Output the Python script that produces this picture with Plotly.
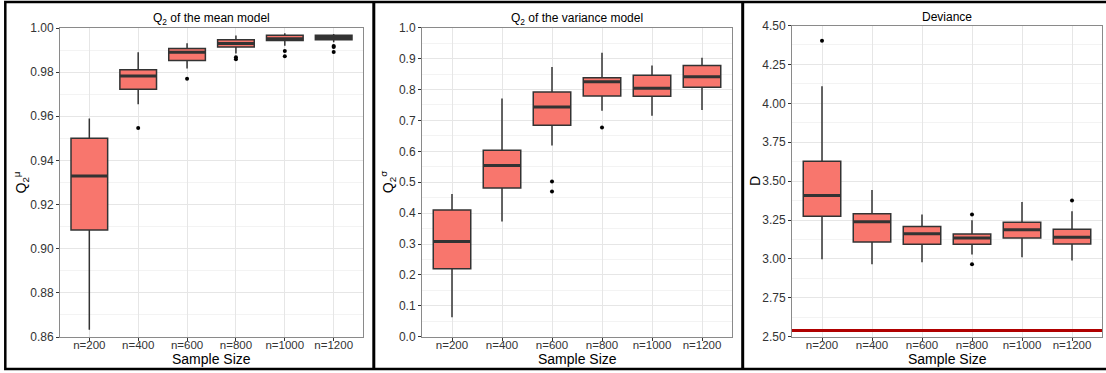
import plotly.graph_objects as go

# ---------------- data ----------------
categories = ["n=200", "n=400", "n=600", "n=800", "n=1000", "n=1200"]

# Q2 of the mean model
mean_lower = [0.8633, 0.9654, 0.9817, 0.9885, 0.9920, 0.9935]
mean_q1 = [0.9085, 0.9722, 0.9853, 0.9914, 0.9943, 0.9947]
mean_med = [0.9330, 0.9782, 0.9890, 0.9930, 0.9951, 0.9957]
mean_q3 = [0.9500, 0.9811, 0.9907, 0.9947, 0.9967, 0.9967]
mean_upper = [0.9590, 0.9890, 0.9931, 0.9966, 0.9976, 0.9973]
mean_out_x = ["n=400", "n=600", "n=800", "n=800", "n=1000", "n=1000", "n=1200", "n=1200", "n=1200"]
mean_out_y = [0.9547, 0.9770, 0.9867, 0.9858, 0.9896, 0.9872, 0.9918, 0.9914, 0.9891]

# Q2 of the variance model
var_lower = [0.063, 0.373, 0.619, 0.731, 0.715, 0.734]
var_q1 = [0.220, 0.481, 0.684, 0.779, 0.778, 0.807]
var_med = [0.308, 0.554, 0.743, 0.825, 0.804, 0.841]
var_q3 = [0.410, 0.603, 0.792, 0.838, 0.846, 0.878]
var_upper = [0.462, 0.771, 0.873, 0.919, 0.878, 0.903]
var_out_x = ["n=600", "n=600", "n=800"]
var_out_y = [0.502, 0.470, 0.677]

# Deviance
dev_lower = [2.998, 2.966, 2.979, 3.028, 3.011, 2.989]
dev_q1 = [3.274, 3.109, 3.094, 3.094, 3.135, 3.096]
dev_med = [3.408, 3.239, 3.162, 3.135, 3.188, 3.139]
dev_q3 = [3.627, 3.290, 3.209, 3.160, 3.235, 3.190]
dev_upper = [4.109, 3.442, 3.286, 3.248, 3.365, 3.306]
dev_out_x = ["n=200", "n=800", "n=800", "n=1200"]
dev_out_y = [4.402, 3.286, 2.966, 3.376]
dev_ref = 2.54

mean_ticks = [0.86, 0.88, 0.90, 0.92, 0.94, 0.96, 0.98, 1.00]
var_ticks = [0.0, 0.1, 0.2, 0.3, 0.4, 0.5, 0.6, 0.7, 0.8, 0.9, 1.0]
dev_ticks = [2.50, 2.75, 3.00, 3.25, 3.50, 3.75, 4.00, 4.25, 4.50]

# ---------------- style ----------------
W, H = 1106, 373
FONT = "Liberation Sans, Arial, Helvetica, sans-serif"
FILL = "#F8766D"
EDGE = "#333333"


def px(x):
    return x / W


def py(y):
    return 1 - y / H


panels = [
    dict(lo=mean_lower, q1=mean_q1, med=mean_med, q3=mean_q3, hi=mean_upper,
         ox=mean_out_x, oy=mean_out_y, ticks=mean_ticks, fmt=".2f",
         box=(60, 363, 28, 337), title="Q<sub>2</sub> of the mean model",
         ytitle="Q<sub>2</sub><sup>μ</sup>", ytx=21),
    dict(lo=var_lower, q1=var_q1, med=var_med, q3=var_q3, hi=var_upper,
         ox=var_out_x, oy=var_out_y, ticks=var_ticks, fmt=".1f",
         box=(422, 732, 27.7, 336.7), title="Q<sub>2</sub> of the variance model",
         ytitle="Q<sub>2</sub><sup>σ</sup>", ytx=388),
    dict(lo=dev_lower, q1=dev_q1, med=dev_med, q3=dev_q3, hi=dev_upper,
         ox=dev_out_x, oy=dev_out_y, ticks=dev_ticks, fmt=".2f",
         box=(792, 1102, 25.5, 336.7), title="Deviance",
         ytitle="D", ytx=755),
]

fig = go.Figure()
annotations = []
shapes = []

for i, p in enumerate(panels, start=1):
    xa = "x" if i == 1 else f"x{i}"
    ya = "y" if i == 1 else f"y{i}"
    fig.add_trace(go.Box(
        x=categories, q1=p["q1"], median=p["med"], q3=p["q3"],
        lowerfence=p["lo"], upperfence=p["hi"],
        width=0.75, whiskerwidth=0, fillcolor=FILL,
        line=dict(color=EDGE, width=1.5), boxpoints=False,
        xaxis=xa, yaxis=ya, showlegend=False, hoverinfo="skip"))
    # thick median line (ggplot style)
    fig.add_trace(go.Box(
        x=categories, q1=p["med"], median=p["med"], q3=p["med"],
        lowerfence=p["med"], upperfence=p["med"],
        width=0.75, whiskerwidth=0, fillcolor="rgba(0,0,0,0)",
        line=dict(color=EDGE, width=3), boxpoints=False,
        xaxis=xa, yaxis=ya, showlegend=False, hoverinfo="skip"))
    fig.add_trace(go.Scatter(
        x=p["ox"], y=p["oy"], mode="markers",
        marker=dict(color="black", size=4),
        xaxis=xa, yaxis=ya, showlegend=False, hoverinfo="skip"))

    x0, x1, y0, y1 = p["box"]
    ticks = p["ticks"]
    step = ticks[1] - ticks[0]
    minor_vals = [t + step / 2 for t in ticks[:-1]]
    fig.update_layout(**{
        ("xaxis" if i == 1 else f"xaxis{i}"): dict(
            domain=[px(x0), px(x1)], anchor=ya, type="category",
            categoryorder="array", categoryarray=categories,
            range=[-0.6, len(categories) - 0.4], automargin=False,
            showgrid=True, gridcolor="#E6E6E6", gridwidth=1,
            showline=True, linecolor="#8A8A8A", linewidth=1, mirror=True,
            ticks="outside", ticklen=3, tickcolor=EDGE, tickwidth=1,
            ticklabelstandoff=-6,
            tickfont=dict(family=FONT, size=11.5, color="#333333"),
            zeroline=False, fixedrange=True),
        ("yaxis" if i == 1 else f"yaxis{i}"): dict(
            domain=[py(y1), py(y0)], anchor=xa, automargin=False,
            range=[ticks[0], ticks[-1]], tickvals=ticks, tickformat=p["fmt"],
            showgrid=True, gridcolor="#E6E6E6", gridwidth=1,
            minor=dict(tickvals=minor_vals, showgrid=True,
                       gridcolor="#F3F3F3", gridwidth=1, ticks=""),
            showline=True, linecolor="#8A8A8A", linewidth=1, mirror=True,
            ticks="outside", ticklen=3, tickcolor=EDGE, tickwidth=1,
            tickfont=dict(family=FONT, size=12, color="#333333"),
            zeroline=False, fixedrange=True),
    })

    cx = (x0 + x1) / 2
    annotations.append(dict(text=p["title"], x=px(cx), y=py(y0 - 9),
                            xref="paper", yref="paper", showarrow=False,
                            xanchor="center", yanchor="middle",
                            font=dict(family=FONT, size=12, color="black")))
    annotations.append(dict(text="Sample Size", x=px(cx), y=py(359),
                            xref="paper", yref="paper", showarrow=False,
                            xanchor="center", yanchor="middle",
                            font=dict(family=FONT, size=14, color="black")))
    annotations.append(dict(text=p["ytitle"], x=px(p["ytx"]), y=py((y0 + y1) / 2),
                            xref="paper", yref="paper", showarrow=False,
                            xanchor="center", yanchor="middle", textangle=-90,
                            font=dict(family=FONT, size=14, color="black")))

# reference line in the deviance panel
shapes.append(dict(type="line", xref="x3 domain", yref="y3", x0=0, x1=1,
                   y0=dev_ref, y1=dev_ref, line=dict(color="#B00000", width=3),
                   layer="above"))

# black frames around the panels
shapes.append(dict(type="rect", xref="paper", yref="paper",
                   x0=px(5.3), x1=px(1110), y0=py(369), y1=py(2),
                   line=dict(color="black", width=2.5), fillcolor="rgba(0,0,0,0)"))
for xd in (373.8, 742.7):
    shapes.append(dict(type="line", xref="paper", yref="paper",
                       x0=px(xd), x1=px(xd), y0=py(369), y1=py(2),
                       line=dict(color="black", width=3)))

fig.update_layout(
    width=W, height=H, autosize=False,
    margin=dict(l=0, r=0, t=0, b=0, pad=0, autoexpand=False),
    paper_bgcolor="white", plot_bgcolor="white",
    annotations=annotations, shapes=shapes, showlegend=False,
    font=dict(family=FONT),
)

fig.write_html(
    "out.html",
    config={"responsive": False, "displayModeBar": False},
    post_script=(
        "var s=document.createElement('style');"
        "s.textContent='html,body{margin:0!important;padding:0!important;overflow:hidden;}"
        ".plotly-graph-div{position:fixed!important;top:0;left:0;}';"
        "document.head.appendChild(s);"
    ),
)
